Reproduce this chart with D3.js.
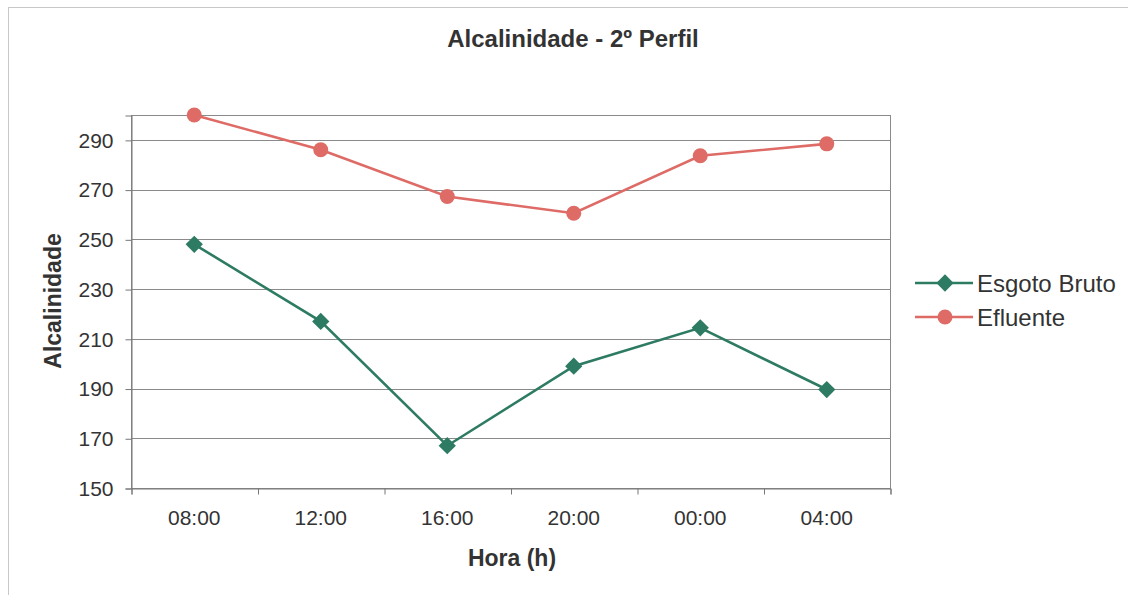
<!DOCTYPE html>
<html>
<head>
<meta charset="utf-8">
<script src="https://cdn.jsdelivr.net/npm/d3@7"></script>
<style>
	body { margin: 0; background: #fff; }
	svg { display: block; font-family: "Liberation Sans", Arial, sans-serif; }
</style>
</head>
<body>
<svg id="chart" width="1128" height="595"></svg>
<script>
const horas = ["08:00", "12:00", "16:00", "20:00", "00:00", "04:00"]
const esgotoBruto = [248, 217, 167, 199, 214.4, 189.6]
const efluente = [300, 286, 267.2, 260.5, 283.6, 288.4]
const yTicks = [150, 170, 190, 210, 230, 250, 270, 290]

const series = [
	{ name: "Esgoto Bruto", values: esgotoBruto, color: "#2e7b64", marker: "diamond" },
	{ name: "Efluente", values: efluente, color: "#de6b66", marker: "circle" }
]

const svg = d3.select("#chart")
const plot = { left: 131, right: 890, top: 115, bottom: 488 }
const textColor = "#333"

// chart area border
svg.append("rect")
	.attr("x", 8.5).attr("y", 7.5)
	.attr("width", 1140).attr("height", 620)
	.attr("fill", "none")
	.attr("stroke", "#c8c8c8")

const x = d3.scaleBand()
	.domain(horas)
	.range([plot.left, plot.right])
const xEdges = d3.scaleLinear()
	.domain([0, horas.length])
	.range([plot.left, plot.right])
const y = d3.scaleLinear()
	.domain([150, 300])
	.range([plot.bottom, plot.top])

// gridlines
svg.append("g")
	.selectAll("line")
	.data(yTicks.slice(1))
	.enter().append("line")
		.attr("x1", plot.left).attr("x2", plot.right)
		.attr("y1", d => Math.round(y(d)) + 0.5)
		.attr("y2", d => Math.round(y(d)) + 0.5)
		.attr("stroke", "#8a8a8a")

// plot frame
svg.append("rect")
	.attr("x", plot.left + 0.5).attr("y", plot.top + 0.5)
	.attr("width", plot.right - plot.left).attr("height", plot.bottom - plot.top)
	.attr("fill", "none")
	.attr("stroke", "#8a8a8a")

// y axis
const yAxis = svg.append("g")
	.attr("transform", `translate(${plot.left + 0.5},0.5)`)
	.call(d3.axisLeft(y).tickValues(yTicks).tickSize(6).tickPadding(12))
yAxis.select(".domain").attr("stroke", "#777")
yAxis.selectAll(".tick line").attr("stroke", "#777")
yAxis.selectAll("text")
	.attr("font-size", 21)
	.attr("fill", textColor)
	.attr("font-family", "Liberation Sans, Arial, sans-serif")

// x axis ticks at category edges
const xAxis = svg.append("g")
	.attr("transform", `translate(0.5,${plot.bottom + 0.5})`)
	.call(d3.axisBottom(xEdges).ticks(horas.length).tickSize(6).tickFormat(""))
xAxis.select(".domain").attr("stroke", "#777")
xAxis.selectAll(".tick line").attr("stroke", "#777")

const xLabels = svg.append("g")
	.attr("transform", `translate(0,${plot.bottom})`)
	.call(d3.axisBottom(x).tickSize(0).tickPadding(22))
xLabels.select(".domain").remove()
xLabels.selectAll("text")
	.attr("font-size", 21)
	.attr("fill", textColor)
	.attr("font-family", "Liberation Sans, Arial, sans-serif")

// lines and markers
const line = d3.line()
	.x((d, i) => x(horas[i]) + x.bandwidth() / 2)
	.y(d => y(d))

const diamond = d3.symbol().type(d3.symbolDiamond2).size(190)

function drawMarker(g, s, cx, cy) {
	if (s.marker === "circle") {
		g.append("circle").attr("cx", cx).attr("cy", cy).attr("r", 7.5).attr("fill", s.color)
	} else {
		g.append("path").attr("d", diamond).attr("transform", `translate(${cx},${cy})`).attr("fill", s.color)
	}
}

series.forEach(s => {
	const g = svg.append("g")
	g.append("path")
		.datum(s.values)
		.attr("d", line)
		.attr("fill", "none")
		.attr("stroke", s.color)
		.attr("stroke-width", 2.6)
	s.values.forEach((v, i) => drawMarker(g, s, x(horas[i]) + x.bandwidth() / 2, y(v)))
})

// legend
const legend = svg.append("g")
series.forEach((s, i) => {
	const ly = 283 + i * 34
	legend.append("line")
		.attr("x1", 915).attr("x2", 973)
		.attr("y1", ly).attr("y2", ly)
		.attr("stroke", s.color)
		.attr("stroke-width", 2.6)
	drawMarker(legend, s, 945, ly)
	legend.append("text")
		.attr("x", 977).attr("y", ly)
		.attr("dy", "0.36em")
		.attr("font-size", 24)
		.attr("fill", textColor)
		.text(s.name)
})

// titles
svg.append("text")
	.attr("x", 573).attr("y", 47)
	.attr("text-anchor", "middle")
	.attr("font-size", 24)
	.attr("font-weight", "bold")
	.attr("fill", textColor)
	.text("Alcalinidade - 2º Perfil")

svg.append("text")
	.attr("x", 512).attr("y", 566)
	.attr("text-anchor", "middle")
	.attr("font-size", 23)
	.attr("font-weight", "bold")
	.attr("fill", textColor)
	.text("Hora (h)")

svg.append("text")
	.attr("transform", "translate(61,301) rotate(-90)")
	.attr("text-anchor", "middle")
	.attr("font-size", 23)
	.attr("font-weight", "bold")
	.attr("fill", textColor)
	.text("Alcalinidade")
</script>
</body>
</html>
